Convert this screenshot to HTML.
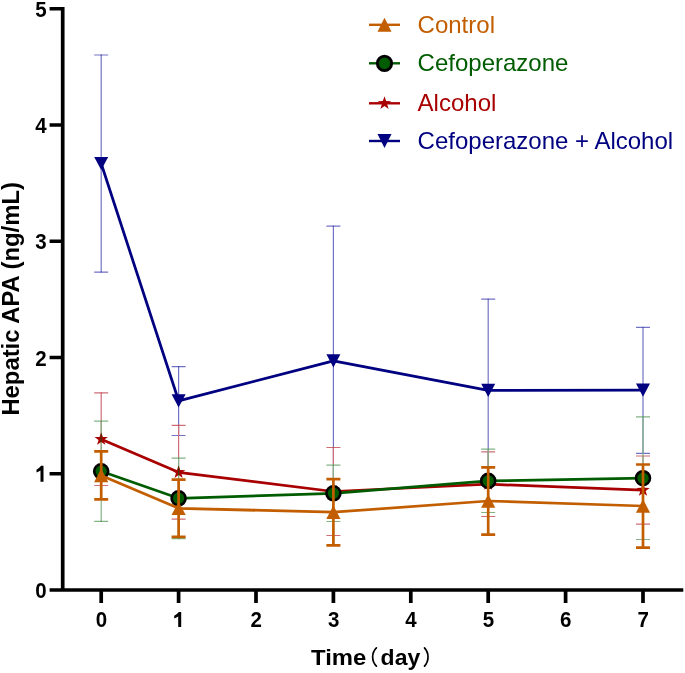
<!DOCTYPE html>
<html><head><meta charset="utf-8"><style>
html,body{margin:0;padding:0;background:#fff;width:685px;height:673px;overflow:hidden}
svg{display:block;will-change:transform}
text{font-family:"Liberation Sans",sans-serif}
</style></head><body>
<svg width="685" height="673" viewBox="0 0 685 673"><defs><mask id="m_red" maskUnits="userSpaceOnUse" x="0" y="0" width="685" height="673"><rect width="685" height="673" fill="#fff"/><path d="M94.20,156.90H108.20L101.20,170.10Z" fill="#000"/><path d="M171.60,394.20H185.60L178.60,407.40Z" fill="#000"/><path d="M326.40,354.20H340.40L333.40,367.40Z" fill="#000"/><path d="M481.20,383.80H495.20L488.20,397.00Z" fill="#000"/><path d="M636.00,383.60H650.00L643.00,396.80Z" fill="#000"/></mask><clipPath id="c_red"><path d="M94.20,156.90H108.20L101.20,170.10Z" fill="#000080"/><path d="M171.60,394.20H185.60L178.60,407.40Z" fill="#000080"/><path d="M326.40,354.20H340.40L333.40,367.40Z" fill="#000080"/><path d="M481.20,383.80H495.20L488.20,397.00Z" fill="#000080"/><path d="M636.00,383.60H650.00L643.00,396.80Z" fill="#000080"/></clipPath><mask id="m_green" maskUnits="userSpaceOnUse" x="0" y="0" width="685" height="673"><rect width="685" height="673" fill="#fff"/><path d="M94.20,156.90H108.20L101.20,170.10Z" fill="#000"/><path d="M171.60,394.20H185.60L178.60,407.40Z" fill="#000"/><path d="M326.40,354.20H340.40L333.40,367.40Z" fill="#000"/><path d="M481.20,383.80H495.20L488.20,397.00Z" fill="#000"/><path d="M636.00,383.60H650.00L643.00,396.80Z" fill="#000"/><polygon points="101.20,432.20 102.85,436.93 107.86,437.04 103.86,440.07 105.31,444.86 101.20,442.00 97.09,444.86 98.54,440.07 94.54,437.04 99.55,436.93" fill="#000"/><polygon points="178.60,465.30 180.25,470.03 185.26,470.14 181.26,473.17 182.71,477.96 178.60,475.10 174.49,477.96 175.94,473.17 171.94,470.14 176.95,470.03" fill="#000"/><polygon points="333.40,484.50 335.05,489.23 340.06,489.34 336.06,492.37 337.51,497.16 333.40,494.30 329.29,497.16 330.74,492.37 326.74,489.34 331.75,489.23" fill="#000"/><polygon points="488.20,477.20 489.85,481.93 494.86,482.04 490.86,485.07 492.31,489.86 488.20,487.00 484.09,489.86 485.54,485.07 481.54,482.04 486.55,481.93" fill="#000"/><polygon points="643.00,483.10 644.65,487.83 649.66,487.94 645.66,490.97 647.11,495.76 643.00,492.90 638.89,495.76 640.34,490.97 636.34,487.94 641.35,487.83" fill="#000"/></mask><clipPath id="c_green"><path d="M94.20,156.90H108.20L101.20,170.10Z" fill="#000080"/><path d="M171.60,394.20H185.60L178.60,407.40Z" fill="#000080"/><path d="M326.40,354.20H340.40L333.40,367.40Z" fill="#000080"/><path d="M481.20,383.80H495.20L488.20,397.00Z" fill="#000080"/><path d="M636.00,383.60H650.00L643.00,396.80Z" fill="#000080"/><polygon points="101.20,432.20 102.85,436.93 107.86,437.04 103.86,440.07 105.31,444.86 101.20,442.00 97.09,444.86 98.54,440.07 94.54,437.04 99.55,436.93" fill="#A80000"/><polygon points="178.60,465.30 180.25,470.03 185.26,470.14 181.26,473.17 182.71,477.96 178.60,475.10 174.49,477.96 175.94,473.17 171.94,470.14 176.95,470.03" fill="#A80000"/><polygon points="333.40,484.50 335.05,489.23 340.06,489.34 336.06,492.37 337.51,497.16 333.40,494.30 329.29,497.16 330.74,492.37 326.74,489.34 331.75,489.23" fill="#A80000"/><polygon points="488.20,477.20 489.85,481.93 494.86,482.04 490.86,485.07 492.31,489.86 488.20,487.00 484.09,489.86 485.54,485.07 481.54,482.04 486.55,481.93" fill="#A80000"/><polygon points="643.00,483.10 644.65,487.83 649.66,487.94 645.66,490.97 647.11,495.76 643.00,492.90 638.89,495.76 640.34,490.97 636.34,487.94 641.35,487.83" fill="#A80000"/></clipPath></defs><path d="M101.20,55.00V272.20M94.20,55.00H108.20M94.20,272.20H108.20M178.60,366.70V435.50M171.60,366.70H185.60M171.60,435.50H185.60M333.40,226.20V495.40M326.40,226.20H340.40M326.40,495.40H340.40M488.20,299.20V481.60M481.20,299.20H495.20M481.20,481.60H495.20M643.00,327.40V453.40M636.00,327.40H650.00M636.00,453.40H650.00" fill="none" stroke="#7272c6" stroke-width="1.2" stroke-opacity="1.0"/><path d="M100.55,54.35h1.3v1.3h-1.3zM100.55,271.55h1.3v1.3h-1.3zM177.95,366.05h1.3v1.3h-1.3zM177.95,434.85h1.3v1.3h-1.3zM332.75,225.55h1.3v1.3h-1.3zM332.75,494.75h1.3v1.3h-1.3zM487.55,298.55h1.3v1.3h-1.3zM487.55,480.95h1.3v1.3h-1.3zM642.35,326.75h1.3v1.3h-1.3zM642.35,452.75h1.3v1.3h-1.3z" fill="#000080" fill-opacity="0.35"/><polyline points="101.20,163.50 178.60,400.80 333.40,360.80 488.20,390.40 643.00,390.20" fill="none" stroke="#000080" stroke-width="2.75" stroke-linejoin="round"/><path d="M94.20,156.90H108.20L101.20,170.10Z" fill="#000080"/><path d="M171.60,394.20H185.60L178.60,407.40Z" fill="#000080"/><path d="M326.40,354.20H340.40L333.40,367.40Z" fill="#000080"/><path d="M481.20,383.80H495.20L488.20,397.00Z" fill="#000080"/><path d="M636.00,383.60H650.00L643.00,396.80Z" fill="#000080"/><g mask="url(#m_red)"><path d="M101.20,392.80V485.50M94.20,392.80H108.20M94.20,485.50H108.20M178.60,425.40V519.10M171.60,425.40H185.60M171.60,519.10H185.60M333.40,447.50V535.50M326.40,447.50H340.40M326.40,535.50H340.40M488.20,451.80V516.50M481.20,451.80H495.20M481.20,516.50H495.20M643.00,456.00V524.20M636.00,456.00H650.00M636.00,524.20H650.00" fill="none" stroke="#d06e78" stroke-width="1.2" stroke-opacity="1.0"/><path d="M100.55,392.15h1.3v1.3h-1.3zM100.55,484.85h1.3v1.3h-1.3zM177.95,424.75h1.3v1.3h-1.3zM177.95,518.45h1.3v1.3h-1.3zM332.75,446.85h1.3v1.3h-1.3zM332.75,534.85h1.3v1.3h-1.3zM487.55,451.15h1.3v1.3h-1.3zM487.55,515.85h1.3v1.3h-1.3zM642.35,455.35h1.3v1.3h-1.3zM642.35,523.55h1.3v1.3h-1.3z" fill="#A80000" fill-opacity="0.35"/></g><g clip-path="url(#c_red)"><path d="M101.20,392.80V485.50M94.20,392.80H108.20M94.20,485.50H108.20M178.60,425.40V519.10M171.60,425.40H185.60M171.60,519.10H185.60M333.40,447.50V535.50M326.40,447.50H340.40M326.40,535.50H340.40M488.20,451.80V516.50M481.20,451.80H495.20M481.20,516.50H495.20M643.00,456.00V524.20M636.00,456.00H650.00M636.00,524.20H650.00" fill="none" stroke="#A80000" stroke-width="1.2" stroke-opacity="0.6"/></g><polyline points="101.20,439.20 178.60,472.30 333.40,491.50 488.20,484.20 643.00,490.10" fill="none" stroke="#A80000" stroke-width="2.75" stroke-linejoin="round"/><polygon points="101.20,432.20 102.85,436.93 107.86,437.04 103.86,440.07 105.31,444.86 101.20,442.00 97.09,444.86 98.54,440.07 94.54,437.04 99.55,436.93" fill="#A80000"/><polygon points="178.60,465.30 180.25,470.03 185.26,470.14 181.26,473.17 182.71,477.96 178.60,475.10 174.49,477.96 175.94,473.17 171.94,470.14 176.95,470.03" fill="#A80000"/><polygon points="333.40,484.50 335.05,489.23 340.06,489.34 336.06,492.37 337.51,497.16 333.40,494.30 329.29,497.16 330.74,492.37 326.74,489.34 331.75,489.23" fill="#A80000"/><polygon points="488.20,477.20 489.85,481.93 494.86,482.04 490.86,485.07 492.31,489.86 488.20,487.00 484.09,489.86 485.54,485.07 481.54,482.04 486.55,481.93" fill="#A80000"/><polygon points="643.00,483.10 644.65,487.83 649.66,487.94 645.66,490.97 647.11,495.76 643.00,492.90 638.89,495.76 640.34,490.97 636.34,487.94 641.35,487.83" fill="#A80000"/><g mask="url(#m_green)"><path d="M101.20,421.20V521.40M94.20,421.20H108.20M94.20,521.40H108.20M178.60,458.10V538.60M171.60,458.10H185.60M171.60,538.60H185.60M333.40,465.10V521.50M326.40,465.10H340.40M326.40,521.50H340.40M488.20,449.20V512.50M481.20,449.20H495.20M481.20,512.50H495.20M643.00,416.90V539.50M636.00,416.90H650.00M636.00,539.50H650.00" fill="none" stroke="#84b486" stroke-width="1.2" stroke-opacity="1.0"/><path d="M100.55,420.55h1.3v1.3h-1.3zM100.55,520.75h1.3v1.3h-1.3zM177.95,457.45h1.3v1.3h-1.3zM177.95,537.95h1.3v1.3h-1.3zM332.75,464.45h1.3v1.3h-1.3zM332.75,520.85h1.3v1.3h-1.3zM487.55,448.55h1.3v1.3h-1.3zM487.55,511.85h1.3v1.3h-1.3zM642.35,416.25h1.3v1.3h-1.3zM642.35,538.85h1.3v1.3h-1.3z" fill="#005c00" fill-opacity="0.35"/></g><g clip-path="url(#c_green)"><path d="M101.20,421.20V521.40M94.20,421.20H108.20M94.20,521.40H108.20M178.60,458.10V538.60M171.60,458.10H185.60M171.60,538.60H185.60M333.40,465.10V521.50M326.40,465.10H340.40M326.40,521.50H340.40M488.20,449.20V512.50M481.20,449.20H495.20M481.20,512.50H495.20M643.00,416.90V539.50M636.00,416.90H650.00M636.00,539.50H650.00" fill="none" stroke="#005c00" stroke-width="1.2" stroke-opacity="0.6"/></g><polyline points="101.20,471.30 178.60,498.30 333.40,493.30 488.20,480.90 643.00,478.20" fill="none" stroke="#005c00" stroke-width="2.75" stroke-linejoin="round"/><circle cx="101.20" cy="471.30" r="7.0" fill="#005c00" stroke="#000" stroke-width="2.6"/><circle cx="178.60" cy="498.30" r="7.0" fill="#005c00" stroke="#000" stroke-width="2.6"/><circle cx="333.40" cy="493.30" r="7.0" fill="#005c00" stroke="#000" stroke-width="2.6"/><circle cx="488.20" cy="480.90" r="7.0" fill="#005c00" stroke="#000" stroke-width="2.6"/><circle cx="643.00" cy="478.20" r="7.0" fill="#005c00" stroke="#000" stroke-width="2.6"/><path d="M101.20,451.40V499.30M94.20,451.40H108.20M94.20,499.30H108.20M178.60,479.70V536.90M171.60,479.70H185.60M171.60,536.90H185.60M333.40,479.10V545.30M326.40,479.10H340.40M326.40,545.30H340.40M488.20,467.40V534.60M481.20,467.40H495.20M481.20,534.60H495.20M643.00,464.50V547.60M636.00,464.50H650.00M636.00,547.60H650.00" fill="none" stroke="#C25E00" stroke-width="2.7" stroke-opacity="1.0"/><polyline points="101.20,475.40 178.60,508.30 333.40,512.20 488.20,501.00 643.00,506.00" fill="none" stroke="#C25E00" stroke-width="2.75" stroke-linejoin="round"/><path d="M94.10,482.20H108.30L101.20,468.60Z" fill="#C25E00"/><path d="M171.50,515.10H185.70L178.60,501.50Z" fill="#C25E00"/><path d="M326.30,519.00H340.50L333.40,505.40Z" fill="#C25E00"/><path d="M481.10,507.80H495.30L488.20,494.20Z" fill="#C25E00"/><path d="M635.90,512.80H650.10L643.00,499.20Z" fill="#C25E00"/><path d="M49.6,8.75H62.7V590M49.6,590H683.3" fill="none" stroke="#000" stroke-width="3.7"/><path d="M49.6,473.75H62.7M49.6,357.50H62.7M49.6,241.25H62.7M49.6,125.00H62.7M101.20,590V603M178.60,590V603M256.00,590V603M333.40,590V603M410.80,590V603M488.20,590V603M565.60,590V603M643.00,590V603" fill="none" stroke="#000" stroke-width="3.7"/><g font-family="Liberation Sans" font-weight="bold" font-size="22.8" fill="#000"><text transform="translate(46.6,598.20) scale(0.9,1)" text-anchor="end">0</text><text transform="translate(46.6,365.70) scale(0.9,1)" text-anchor="end">2</text><text transform="translate(46.6,249.45) scale(0.9,1)" text-anchor="end">3</text><text transform="translate(46.6,133.20) scale(0.9,1)" text-anchor="end">4</text><text transform="translate(46.6,16.95) scale(0.9,1)" text-anchor="end">5</text><text transform="translate(101.40,627) scale(0.9,1)" text-anchor="middle">0</text><text transform="translate(256.20,627) scale(0.9,1)" text-anchor="middle">2</text><text transform="translate(333.60,627) scale(0.9,1)" text-anchor="middle">3</text><text transform="translate(411.00,627) scale(0.9,1)" text-anchor="middle">4</text><text transform="translate(488.40,627) scale(0.9,1)" text-anchor="middle">5</text><text transform="translate(565.80,627) scale(0.9,1)" text-anchor="middle">6</text><text transform="translate(643.20,627) scale(0.9,1)" text-anchor="middle">7</text></g><path d="M43.50,465.85V481.65H40.50V470.55Q38.90,471.75 36.50,472.55V469.75Q39.10,468.45 41.10,465.85Z" fill="#000"/><path d="M181.20,611.90V627.00H178.20V616.60Q176.60,617.80 174.20,618.60V615.80Q176.80,614.50 178.80,611.90Z" fill="#000"/><g font-family="Liberation Sans" font-weight="bold" font-size="22.8" fill="#000"><text font-size="23" transform="translate(19,415.6) rotate(-90)" textLength="233.5" lengthAdjust="spacingAndGlyphs">Hepatic APA (ng/mL)</text><text x="311" y="665" textLength="55.2" lengthAdjust="spacingAndGlyphs">Time</text><text x="380.6" y="665" textLength="39.6" lengthAdjust="spacingAndGlyphs">day</text></g><path d="M376.4,647.9A12.9,12.9 0 0 0 376.4,666.1M424.5,647.9A13.5,13.5 0 0 1 424.5,666.1" fill="none" stroke="#000" stroke-width="1.7" stroke-linecap="round"/><path d="M369,24.8H400" stroke="#C25E00" stroke-width="2.4"/><path d="M377.50,31.80H391.50L384.50,17.80Z" fill="#C25E00"/><text x="417.6" y="32.60" fill="#C25E00" font-family="Liberation Sans" font-size="24">Control</text><path d="M369,63.3H400" stroke="#005c00" stroke-width="2.4"/><circle cx="384.50" cy="63.30" r="7.2" fill="#005c00" stroke="#000" stroke-width="2.8"/><text x="417.6" y="71.10" fill="#005c00" font-family="Liberation Sans" font-size="24">Cefoperazone</text><path d="M369,103.3H400" stroke="#A80000" stroke-width="2.4"/><polygon points="384.50,96.30 386.15,101.03 391.16,101.14 387.16,104.17 388.61,108.96 384.50,106.10 380.39,108.96 381.84,104.17 377.84,101.14 382.85,101.03" fill="#A80000"/><text x="417.6" y="111.10" fill="#A80000" font-family="Liberation Sans" font-size="24">Alcohol</text><path d="M369,141.0H400" stroke="#000080" stroke-width="2.4"/><path d="M377.50,134.00H391.50L384.50,148.00Z" fill="#000080"/><text x="417.6" y="148.80" fill="#000080" font-family="Liberation Sans" font-size="24">Cefoperazone + Alcohol</text></svg>
</body></html>
